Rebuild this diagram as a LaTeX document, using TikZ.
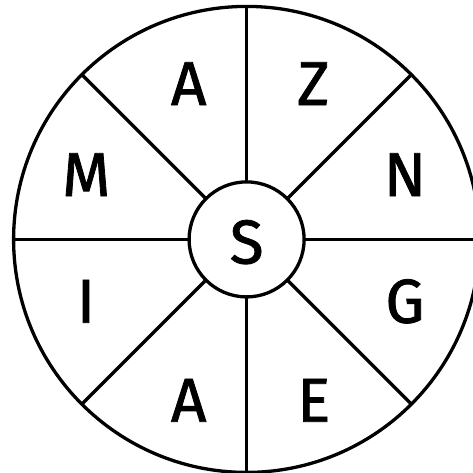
\documentclass[tikz,border=0pt]{standalone}
\usepackage{fontspec}
\setmainfont{Fira Sans}[FakeBold=1.3]
\begin{document}
\begin{tikzpicture}[x=1pt,y=-1pt,
  ring/.style={draw, circle, line width=3.3pt, inner sep=0pt, outer sep=0pt},
  spoke/.style={line width=3.3pt},
  letter/.style={anchor=base, inner sep=0pt, font=\fontsize{62}{62}\selectfont}]
\useasboundingbox (0,0) rectangle (473,472);
\node[ring, minimum size=466pt] (o) at (246.6,239.4) {};
\node[ring, minimum size=115pt] (c) at (246.6,239.4) {};
\foreach \a in {0,45,...,315} \draw[spoke] (c.\a) -- (o.\a);
\node[letter] (s) at (246.7,263.5) {S};
\node[letter] (l1) at (188.7,105) {A};
\node[letter] (l2) at (313.3,105) {Z};
\node[letter] (l3) at (405,196) {N};
\node[letter] (l4) at (405,322.7) {G};
\node[letter] (l5) at (313.8,421.7) {E};
\node[letter] (l6) at (188.7,421.7) {A};
\node[letter] (l7) at (86,322.7) {I};
\node[letter] (l8) at (86.3,196) {M};
\end{tikzpicture}
\end{document}
